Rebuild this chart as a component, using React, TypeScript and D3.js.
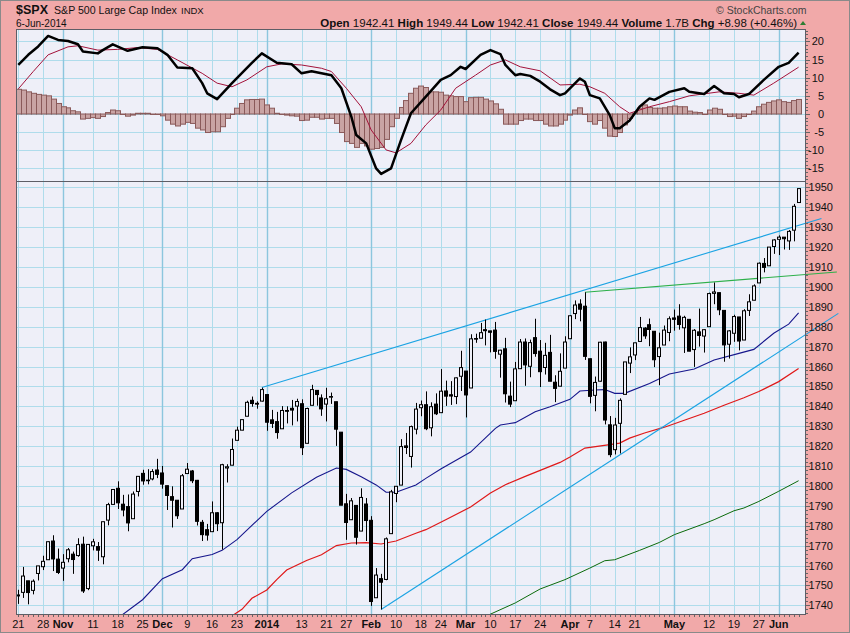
import * as d3 from 'd3'

const W = 850
const H = 633
const PLOT = { left: 16, right: 806, top: 29, mid: 181, bottom: 615 }
const FONT = '"Liberation Sans", Arial, sans-serif'

// daily OHLC, 21-Oct-2013 .. 6-Jun-2014 (158 sessions)
const opens = [
  1745.2, 1746.5, 1752.3, 1747.5, 1756.0, 1759.4, 1762.9, 1772.3, 1763.2, 1758.7,
  1763.4, 1765.7, 1765.0, 1770.7, 1748.4, 1769.9, 1769.5, 1764.4, 1782.8, 1790.7,
  1798.8, 1790.8, 1789.6, 1783.5, 1797.2, 1806.3, 1802.9, 1803.5, 1808.0, 1806.5,
  1800.1, 1794.6, 1792.8, 1788.4, 1806.2, 1807.5, 1802.8, 1781.7, 1778.0, 1777.0,
  1786.5, 1781.5, 1809.0, 1810.4, 1822.9, 1828.0, 1835.0, 1843.0, 1841.5, 1842.6,
  1845.9, 1833.2, 1832.3, 1828.7, 1837.9, 1839.0, 1840.1, 1841.3, 1821.4, 1840.5,
  1848.0, 1844.2, 1841.1, 1844.7, 1842.3, 1827.0, 1791.0, 1783.0, 1790.2, 1777.3,
  1790.9, 1782.7, 1743.8, 1753.4, 1753.0, 1776.0, 1796.2, 1800.4, 1820.1, 1814.8,
  1828.5, 1839.3, 1840.8, 1829.2, 1841.1, 1836.8, 1847.7, 1845.8, 1844.9, 1855.1,
  1857.7, 1849.2, 1874.05, 1874.2, 1878.5, 1877.9, 1878.3, 1866.2, 1868.9, 1845.1,
  1842.8, 1858.9, 1872.3, 1860.1, 1874.5, 1867.7, 1859.5, 1867.1, 1852.1, 1850.1,
  1859.2, 1873.96, 1886.6, 1891.4, 1890.3, 1863.9, 1845.5, 1852.6, 1872.3, 1830.7,
  1818.2, 1831.45, 1846.0, 1861.7, 1865.8, 1872.6, 1879.3, 1881.0, 1877.7, 1865.0,
  1870.8, 1877.1, 1884.4, 1885.3, 1879.45, 1883.7, 1868.5, 1877.4, 1875.3, 1880.0,
  1896.75, 1897.1, 1888.2, 1871.2, 1876.7, 1884.9, 1873.3, 1888.2, 1893.3, 1902.0,
  1911.8, 1910.6, 1920.3, 1923.9, 1925.0, 1923.1, 1928.5, 1942.4,
]
const highs = [
  1747.8, 1759.3, 1752.3, 1753.0, 1759.8, 1764.9, 1772.1, 1775.2, 1768.5, 1765.7,
  1768.8, 1767.0, 1773.7, 1774.5, 1770.8, 1773.4, 1771.8, 1782.0, 1791.5, 1798.2,
  1802.3, 1795.5, 1795.7, 1797.2, 1804.8, 1808.1, 1808.4, 1808.4, 1813.6, 1810.0,
  1800.1, 1799.8, 1792.8, 1806.0, 1811.5, 1808.0, 1803.0, 1782.9, 1780.9, 1792.2,
  1786.8, 1811.1, 1810.9, 1823.8, 1829.8, 1833.3, 1842.8, 1844.9, 1842.5, 1849.4,
  1845.9, 1838.2, 1837.2, 1840.1, 1840.0, 1843.2, 1843.8, 1843.5, 1839.3, 1850.8,
  1848.0, 1846.0, 1849.3, 1846.9, 1842.3, 1827.0, 1796.0, 1793.9, 1790.2, 1798.8,
  1793.9, 1784.8, 1758.7, 1755.8, 1774.1, 1798.0, 1799.9, 1823.5, 1826.6, 1830.3,
  1841.7, 1842.9, 1847.5, 1842.0, 1846.5, 1858.7, 1852.9, 1852.65, 1854.5, 1867.9,
  1857.7, 1876.2, 1876.5, 1881.9, 1883.6, 1877.9, 1882.4, 1868.4, 1874.4, 1852.4,
  1862.3, 1873.8, 1874.1, 1873.5, 1884.0, 1873.3, 1871.9, 1875.9, 1855.6, 1866.6,
  1875.2, 1885.8, 1893.2, 1893.8, 1897.3, 1864.0, 1854.95, 1872.4, 1872.5, 1835.1,
  1834.2, 1844.0, 1862.3, 1869.6, 1871.9, 1884.9, 1879.75, 1884.1, 1877.7, 1877.0,
  1880.6, 1885.2, 1888.6, 1891.3, 1885.5, 1883.7, 1878.8, 1889.1, 1878.8, 1897.1,
  1902.2, 1897.1, 1888.2, 1878.3, 1886.0, 1884.9, 1888.8, 1896.3, 1901.3, 1912.3,
  1914.5, 1920.0, 1924.0, 1925.9, 1925.0, 1928.6, 1941.7, 1949.4,
]
const lows = [
  1740.7, 1743.7, 1740.5, 1745.5, 1752.5, 1757.7, 1762.9, 1757.2, 1755.7, 1752.3,
  1761.6, 1755.8, 1764.4, 1746.2, 1747.6, 1767.6, 1762.3, 1760.6, 1780.2, 1790.7,
  1788.4, 1784.7, 1777.2, 1783.5, 1794.7, 1800.6, 1800.8, 1802.8, 1803.9, 1798.6,
  1787.9, 1779.1, 1783.4, 1788.4, 1806.2, 1801.4, 1780.1, 1772.3, 1772.5, 1777.0,
  1777.3, 1768.0, 1801.7, 1810.4, 1822.9, 1828.0, 1835.0, 1839.8, 1838.8, 1842.4,
  1827.7, 1829.1, 1823.7, 1828.7, 1831.4, 1830.4, 1832.4, 1815.5, 1821.4, 1840.5,
  1840.3, 1835.2, 1832.4, 1841.2, 1820.1, 1790.3, 1772.9, 1783.0, 1770.5, 1777.3,
  1772.3, 1739.7, 1743.8, 1737.9, 1752.6, 1776.0, 1791.8, 1800.4, 1816.0, 1809.2,
  1825.9, 1835.0, 1828.0, 1824.9, 1835.6, 1836.8, 1840.2, 1840.7, 1841.1, 1847.7,
  1834.4, 1849.2, 1871.9, 1874.2, 1870.6, 1867.1, 1863.9, 1854.4, 1841.9, 1839.6,
  1842.8, 1858.9, 1850.3, 1854.6, 1864.9, 1849.7, 1855.96, 1852.6, 1842.1, 1850.1,
  1859.2, 1873.96, 1883.8, 1882.7, 1863.3, 1841.5, 1837.5, 1852.4, 1830.9, 1814.4,
  1815.8, 1816.3, 1846.0, 1856.7, 1863.2, 1872.6, 1873.9, 1870.2, 1859.7, 1850.6,
  1870.8, 1872.7, 1878.0, 1878.5, 1866.8, 1867.7, 1859.8, 1870.0, 1867.0, 1880.0,
  1891.3, 1885.8, 1862.4, 1864.0, 1872.4, 1868.1, 1873.3, 1885.4, 1893.3, 1902.0,
  1907.3, 1910.6, 1916.6, 1916.0, 1918.8, 1918.6, 1922.9, 1942.4,
]
const closes = [
  1744.7, 1754.7, 1746.4, 1752.1, 1759.8, 1762.1, 1771.95, 1763.3, 1756.5, 1761.6,
  1767.9, 1763.0, 1770.5, 1747.2, 1770.6, 1771.9, 1767.7, 1782.0, 1790.6, 1798.2,
  1791.5, 1787.9, 1781.4, 1795.9, 1804.8, 1802.5, 1802.75, 1807.2, 1805.8, 1800.9,
  1795.2, 1792.8, 1785.0, 1805.1, 1808.4, 1802.6, 1782.2, 1775.5, 1775.3, 1786.5,
  1781.0, 1810.65, 1809.6, 1818.3, 1828.0, 1833.3, 1842.0, 1841.4, 1841.1, 1848.4,
  1832.0, 1831.4, 1826.8, 1837.9, 1837.5, 1838.1, 1842.4, 1819.2, 1838.9, 1848.4,
  1845.9, 1838.7, 1843.8, 1844.9, 1828.5, 1790.3, 1781.6, 1792.5, 1774.2, 1794.2,
  1782.6, 1741.9, 1755.2, 1751.6, 1773.4, 1797.0, 1799.8, 1819.75, 1819.3, 1829.8,
  1838.6, 1840.8, 1828.75, 1839.8, 1836.25, 1847.6, 1845.1, 1845.16, 1854.3, 1859.45,
  1845.7, 1873.9, 1873.8, 1877.0, 1878.0, 1877.2, 1867.6, 1868.2, 1846.3, 1841.1,
  1858.8, 1872.3, 1860.8, 1872.0, 1866.5, 1857.4, 1865.6, 1852.6, 1849.0, 1857.6,
  1872.3, 1885.5, 1890.9, 1888.8, 1865.1, 1845.0, 1852.0, 1872.2, 1833.1, 1815.7,
  1830.6, 1843.0, 1862.3, 1864.85, 1871.9, 1879.55, 1875.4, 1878.6, 1863.4, 1869.4,
  1878.3, 1884.0, 1883.7, 1881.1, 1884.7, 1867.7, 1878.2, 1875.6, 1878.5, 1896.65,
  1897.45, 1888.5, 1870.85, 1877.9, 1885.1, 1872.8, 1888.0, 1892.5, 1900.5, 1911.9,
  1909.8, 1920.0, 1923.6, 1925.0, 1924.2, 1927.9, 1940.5, 1949.4,
]

// moving averages as [session index, value]
const sma50 = [
  [20, 1733.5], [25, 1742.8], [29, 1753.4], [33, 1757.9], [35, 1763.4], [39, 1765.5], [41, 1767.6],
  [44, 1773], [50, 1787.2], [55, 1796.5], [60, 1804.3], [64, 1809], [66, 1808.3], [69, 1804.6],
  [72, 1800.5], [74, 1796.8], [76, 1796.8], [80, 1800.5], [82, 1803.8], [85, 1808.5], [91, 1817],
  [96, 1828.9], [97, 1830.6], [100, 1831.8], [104, 1837.3], [107, 1839.8], [111, 1843.5],
  [113, 1847.7], [116, 1848.2], [118, 1848.4], [120, 1846.5], [122, 1846.5], [127, 1851.5],
  [131, 1856.2], [136, 1858.7], [140, 1863.3], [145, 1866.6], [148, 1868.6], [152, 1876.7],
  [155, 1881.3], [157, 1887],
]
const sma100 = [
  [42, 1733], [45, 1738], [47, 1743.5], [50, 1747.7], [52, 1752.9], [54, 1757.7], [58, 1762.5],
  [61, 1765.4], [64, 1770], [67, 1771.3], [70, 1771.5], [73, 1770.8], [76, 1772.3], [80, 1776.2],
  [82, 1778], [86, 1783], [91, 1789.4], [95, 1796.4], [98, 1800.6], [102, 1804.8], [107, 1809.8],
  [109, 1811.8], [111, 1814.5], [114, 1819], [119, 1820.7], [121, 1821.5], [123, 1824],
  [126, 1826.6], [130, 1829.5], [134, 1833], [138, 1836.5], [142, 1840.5], [146, 1844.3],
  [149, 1847.4], [153, 1852.4], [157, 1859],
]
const sma200 = [
  [93, 1733.3], [100, 1741.2], [105, 1748.2], [110, 1752.9], [115, 1758.7], [118, 1762.4],
  [120, 1762.9], [125, 1767.6], [129, 1771.6], [132, 1775.5], [138, 1781], [140, 1783],
  [144, 1787.5], [146, 1788.9], [149, 1792.2], [153, 1797.3], [157, 1802.6],
]

// trend lines [session index, price]
const upperChannel = [[49, 1849.4], [161.6, 1934.4]]
const lowerChannel = [[73, 1737.9], [165, 1886.7]]
const aprilHighLine = [[114, 1897.3], [164.7, 1907.5]]

// MACD(12,26,9)
const macdLine = [
  [0, 13.5], [2, 16.3], [4, 18.6], [6, 21.5], [8, 20.4], [10, 20.1], [12, 19.2], [13, 17.2],
  [16, 16.7], [17, 17.6], [19, 19.2], [22, 17.4], [25, 18.4], [28, 18.1], [30, 16.3], [32, 12.8],
  [35, 12.6], [37, 8.5], [38, 5.7], [40, 4.1], [43, 8.5], [47, 14.1], [49, 16.7], [52, 14.1],
  [55, 13.7], [57, 11.2], [59, 11.8], [63, 10.7], [65, 7.1], [67, -0.7], [68, -5.8], [70, -8.1],
  [72, -15], [73, -16.5], [75, -15], [77, -7.2], [79, 0.2], [82, 4.8], [85, 9.4], [87, 10.7],
  [89, 13.0], [90, 12.4], [93, 16.3], [95, 17.6], [97, 16.5], [98, 13.5], [100, 10.7],
  [101, 11.0], [103, 10.5], [105, 8.9], [107, 6.8], [109, 5.2], [110, 5.7], [113, 9.8],
  [114, 8.9], [115, 5.2], [117, 4.3], [119, -0.3], [120, -3.9], [121, -3.9], [123, -1.8],
  [125, 2.0], [127, 4.3], [128, 3.9], [131, 6.1], [134, 7.1], [135, 6.1], [138, 5.5], [140, 7.7],
  [142, 5.7], [144, 5.5], [145, 4.6], [147, 5.5], [150, 9.4], [153, 13.0], [155, 14.1], [157, 16.9],
]
const signalLine = [
  [0, 6.9], [3, 11.7], [6, 16.3], [10, 18.5], [12, 18.8], [16, 17.6], [20, 17.8], [24, 18.3],
  [28, 17.8], [32, 14.9], [37, 11.2], [40, 8.5], [43, 7.5], [46, 9.4], [50, 13.0], [53, 13.8],
  [57, 13.5], [61, 12.6], [63, 11.7], [66, 7.1], [69, 2.0], [71, -4.4], [74, -9.9], [76, -10.7],
  [79, -8.1], [82, -3.0], [85, 1.1], [88, 7.1], [92, 10.7], [95, 13.5], [98, 14.9], [101, 13.0],
  [105, 11.9], [109, 8.0], [113, 8.2], [115, 7.5], [118, 5.7], [121, 2.0], [123, 0.2],
  [127, 2.0], [131, 3.4], [135, 5.0], [141, 6.1], [145, 5.7], [148, 5.2], [152, 8.5], [157, 12.9],
]
const histogram = [
  6.8, 6.6, 6.1, 5.7, 5.4, 5.2, 5.0, 4.1, 2.9, 2.0,
  1.7, 0.9, 0.6, -1.4, -1.2, -1.0, -1.2, -0.7, 0.4, 1.1,
  0.9, 0, -0.6, -0.3, 0.2, 0.2, 0.2, 0, 0, -0.5,
  -1.7, -2.8, -3.3, -2.8, -2.3, -2.6, -3.9, -4.4, -5.1, -4.9,
  -4.9, -3.5, -1.2, 0, 1.6, 2.9, 3.9, 4.0, 4.0, 4.1,
  2.5, 1.6, 0.2, 0, -0.3, -0.5, -0.6, -1.8, -1.7, -0.9,
  -0.9, -1.4, -1.2, -1.2, -2.6, -5.1, -7.6, -8.1, -9.2, -8.1,
  -8.8, -9.7, -9.5, -9.2, -7.0, -3.5, -1.2, 1.8, 3.7, 5.7,
  7.1, 7.7, 7.3, 6.1, 6.1, 6.0, 5.2, 5.0, 4.8, 4.8,
  3.4, 4.5, 4.6, 4.6, 4.1, 3.6, 2.8, 1.3, -2.8, -2.8,
  -2.8, -1.8, -1.4, -1.4, -1.8, -1.8, -2.8, -3.3, -3.3, -2.8,
  -1.7, -0.3, 1.1, 1.7, -0.1, -2.1, -2.8, -1.8, -3.9, -6.1,
  -6.2, -5.1, -3.0, -1.2, 0.2, 1.6, 2.5, 1.8, 1.6, 1.6,
  1.7, 2.0, 2.2, 2.0, 2.0, 0.8, 0.5, 0.4, -0.1, 1.1,
  1.6, 1.3, -0.1, -0.7, -0.6, -1.2, -0.7, -0.1, 0.8, 2.0,
  2.7, 3.2, 3.6, 3.9, 3.4, 3.2, 3.7, 4.0,
]

// x axis
const tickIdx = [0, 5, 9, 15, 20, 25, 29, 34, 39, 44, 50, 57, 62, 66, 71, 76, 81, 85, 90, 95, 100, 105,
  111, 115, 120, 124, 132, 139, 144, 149, 153]
const tickText = ['21', '28', 'Nov', '11', '18', '25', 'Dec', '9', '16', '23', '2014', '13', '21', '27',
  'Feb', '10', '18', '24', 'Mar', '10', '17', '24', 'Apr', '7', '14', '21', 'May', '12', '19', '27', 'Jun']
const monthIdx = [9, 29, 50, 71, 90, 111, 132, 153]
const weekIdx = [0, 5, 15, 20, 25, 34, 39, 44, 48, 57, 62, 66, 76, 81, 85, 95, 100, 105, 110, 115, 120,
  124, 129, 139, 144, 149]

const priceTicks = d3.range(1740, 1951, 10)
const macdTicks = d3.range(-15, 21, 5)

const xScale = d3.scaleLinear().domain([0, 157]).range([18.3, 798.6])
const yPrice = d3.scaleLinear().domain([1740, 1950]).range([605.3, 187.4])
const yMacd = d3.scaleLinear().domain([0, 20]).range([114, 41.4])

const priceLine = d3.line<number[]>().x(d => xScale(d[0])).y(d => yPrice(d[1]))
const macdPath = d3.line<number[]>().x(d => xScale(d[0])).y(d => yMacd(d[1]))

const PINK = '#F1A9A9'
const PANEL_BG = '#EEEFF8'
const GRID = '#AFDCEB'
const GRID_MONTH = '#8CC6DE'

export default function App() {
  const gridX = (i: number) => Math.round(xScale(i)) + 0.5

  return (
    <svg
      width={W}
      height={H}
      viewBox={`0 0 ${W} ${H}`}
      style={{ position: 'absolute', left: 0, top: 0, display: 'block', fontFamily: FONT }}
    >
      <defs>
        <clipPath id="clip-macd">
          <rect x={PLOT.left} y={PLOT.top} width={PLOT.right - PLOT.left} height={PLOT.mid - PLOT.top} />
        </clipPath>
        <clipPath id="clip-price">
          <rect x={PLOT.left} y={PLOT.mid} width={PLOT.right - PLOT.left} height={PLOT.bottom - PLOT.mid} />
        </clipPath>
      </defs>

      <rect x={0} y={0} width={W} height={H} fill={PINK} />
      <rect x={PLOT.left} y={PLOT.top} width={PLOT.right - PLOT.left} height={PLOT.bottom - PLOT.top} fill={PANEL_BG} />

      {/* horizontal grid */}
      {priceTicks.map(v => (
        <line key={`pg-${v}`} x1={PLOT.left} x2={PLOT.right} y1={Math.round(yPrice(v)) + 0.5} y2={Math.round(yPrice(v)) + 0.5} stroke={GRID} />
      ))}
      {macdTicks.map(v => (
        <line key={`mg-${v}`} x1={PLOT.left} x2={PLOT.right} y1={Math.round(yMacd(v)) + 0.5} y2={Math.round(yMacd(v)) + 0.5} stroke={GRID} />
      ))}

      {/* vertical grid */}
      {weekIdx.map(i => (
        <line key={`wg-${i}`} x1={gridX(i)} x2={gridX(i)} y1={PLOT.top} y2={PLOT.bottom} stroke={GRID} />
      ))}
      {monthIdx.map(i => (
        <line key={`mo-${i}`} x1={gridX(i)} x2={gridX(i)} y1={PLOT.top} y2={PLOT.bottom} stroke={GRID_MONTH} strokeWidth={1.4} />
      ))}

      {/* MACD panel */}
      <g clipPath="url(#clip-macd)">
        {histogram.map((v, i) => {
          const x0 = Math.round(xScale(i - 0.5)) + 0.5
          const x1 = Math.round(xScale(i + 0.5)) + 0.5
          const y0 = yMacd(0)
          const y1 = yMacd(v)
          return (
            <rect
              key={`h-${i}`}
              x={x0}
              y={Math.min(y0, y1)}
              width={x1 - x0}
              height={Math.max(Math.abs(y1 - y0), 0.5)}
              fill="#C9A4A4"
              stroke="#8A5A5A"
              strokeWidth={1}
            />
          )
        })}
        <path d={macdPath(signalLine) || ''} fill="none" stroke="#A3123A" strokeWidth={1} />
        <path d={macdPath(macdLine) || ''} fill="none" stroke="#000" strokeWidth={2.5} strokeLinejoin="round" />
      </g>

      {/* price panel */}
      <g clipPath="url(#clip-price)">
        <path d={priceLine(sma200) || ''} fill="none" stroke="#0B6B0B" strokeWidth={1} />
        <path d={priceLine(sma100) || ''} fill="none" stroke="#E01818" strokeWidth={1.2} />
        <path d={priceLine(sma50) || ''} fill="none" stroke="#16168C" strokeWidth={1.1} />
      </g>

      {/* trend lines, allowed to run into the axis margin */}
      <path d={priceLine(upperChannel) || ''} fill="none" stroke="#1BA3E3" strokeWidth={1.1} />
      <path d={priceLine(lowerChannel) || ''} fill="none" stroke="#1BA3E3" strokeWidth={1.1} />
      <path d={priceLine(aprilHighLine) || ''} fill="none" stroke="#2DB04A" strokeWidth={1.2} />

      {/* candles */}
      <g clipPath="url(#clip-price)">
        {closes.map((c, i) => {
          const o = opens[i]
          const cx = Math.round(xScale(i))
          const yTop = yPrice(Math.max(o, c))
          const yBot = yPrice(Math.min(o, c))
          const up = c >= o
          return (
            <g key={`c-${i}`}>
              <line x1={cx + 0.5} x2={cx + 0.5} y1={yPrice(highs[i])} y2={yPrice(lows[i])} stroke="#000" />
              <rect
                x={cx - 1.5}
                y={yTop}
                width={3}
                height={Math.max(yBot - yTop, 0.6)}
                fill={up ? PANEL_BG : '#000'}
                stroke="#000"
                strokeWidth={1}
              />
            </g>
          )
        })}
      </g>

      {/* panel borders */}
      <rect x={PLOT.left + 0.5} y={PLOT.top + 0.5} width={PLOT.right - PLOT.left - 1} height={PLOT.bottom - PLOT.top - 1} fill="none" stroke="#5E5E66" />
      <line x1={PLOT.left} x2={PLOT.right} y1={PLOT.mid + 0.5} y2={PLOT.mid + 0.5} stroke="#5E5E66" />

      {/* right axis ticks and labels */}
      {d3.range(1736, 1953, 2).map(v => (
        <line key={`pt-${v}`} x1={PLOT.right} x2={PLOT.right + (v % 10 === 0 ? 4 : 2)} y1={Math.round(yPrice(v)) + 0.5} y2={Math.round(yPrice(v)) + 0.5} stroke="#666" />
      ))}
      {d3.range(-18, 24, 1).map(v => (
        <line key={`mt-${v}`} x1={PLOT.right} x2={PLOT.right + (v % 5 === 0 ? 4 : 2)} y1={Math.round(yMacd(v)) + 0.5} y2={Math.round(yMacd(v)) + 0.5} stroke="#666" />
      ))}
      {priceTicks.map(v => (
        <text key={`pl-${v}`} x={833} y={yPrice(v) + 4} textAnchor="end" fontSize={11} fill="#111">{v}</text>
      ))}
      {macdTicks.map(v => (
        <text key={`ml-${v}`} x={824} y={yMacd(v) + 4} textAnchor="end" fontSize={11} fill="#111">{v}</text>
      ))}

      {/* bottom axis */}
      {closes.map((_, i) => (
        <line key={`bt-${i}`} x1={gridX(i)} x2={gridX(i)} y1={PLOT.bottom} y2={PLOT.bottom + 2} stroke="#666" />
      ))}
      {tickIdx.map((i, k) => (
        <text
          key={`xl-${i}`}
          x={xScale(i)}
          y={628}
          textAnchor="middle"
          fontSize={11}
          fontWeight={monthIdx.includes(i) ? 'bold' : 'normal'}
          fill="#111"
        >
          {tickText[k]}
        </text>
      ))}

      {/* header */}
      <text x={16} y={14} fontSize={12.5} fontWeight="bold" fill="#111">$SPX</text>
      <text x={54} y={14} fontSize={10.6} fill="#111">S&amp;P 500 Large Cap Index</text>
      <text x={181} y={14} fontSize={9.5} fill="#111">INDX</text>
      <text x={16} y={27} fontSize={10} fill="#111">6-Jun-2014</text>
      <text x={716} y={14} fontSize={10.5} fill="#444">© StockCharts.com</text>
      <text x={797} y={27} textAnchor="end" fontSize={11.5} fill="#111">
        <tspan fontWeight="bold">Open</tspan> 1942.41{'  '}
        <tspan fontWeight="bold">High</tspan> 1949.44{'  '}
        <tspan fontWeight="bold">Low</tspan> 1942.41{'  '}
        <tspan fontWeight="bold">Close</tspan> 1949.44{'  '}
        <tspan fontWeight="bold">Volume</tspan> 1.7B{'  '}
        <tspan fontWeight="bold">Chg</tspan> +8.98 (+0.46%)
      </text>
      <path d="M800,25 L803,21 L806,25 Z" fill="#2E7D32" />

      <rect x={0.5} y={0.5} width={W - 1} height={H - 1} fill="none" stroke="#8A8A8A" />
    </svg>
  )
}
